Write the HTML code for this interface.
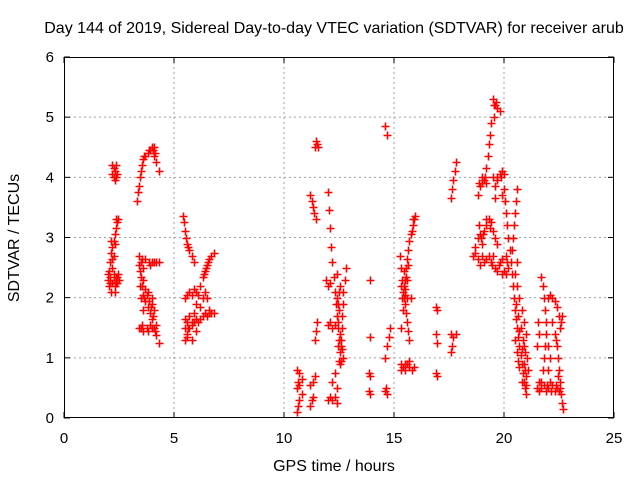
<!DOCTYPE html>
<html><head><meta charset="utf-8"><style>
body{margin:0;background:#fff}
svg{display:block;font-family:"Liberation Sans",sans-serif}
</style></head><body>
<svg id="chart" width="640" height="480">
<rect width="640" height="480" fill="#fff"/>
<text x="334" y="33" font-size="16" text-anchor="middle">Day 144 of 2019, Sidereal Day-to-day VTEC variation (SDTVAR) for receiver arub</text>
<g id="grid"></g>
<g id="axes"></g>
<g id="marks"></g>
<text x="334" y="471" font-size="16" text-anchor="middle">GPS time / hours</text>
<text x="19" y="238" font-size="16" text-anchor="middle" transform="rotate(-90 19 238)">SDTVAR / TECUs</text>
</svg>
<script>
const xTicks=[0,5,10,15,20,25];
const yTicks=[0,1,2,3,4,5,6];
const passA=[[2.0,2.3],[2.05,2.45],[2.1,2.6],[2.15,2.75],[2.2,2.85],[2.25,2.95],[2.3,3.05],[2.35,3.15],[2.4,3.25],[2.45,3.3],[2.05,2.2],[2.1,2.35],[2.2,2.25],[2.25,2.4],[2.3,2.2],[2.35,2.35],[2.4,2.25],[2.45,2.4],[2.5,2.3],[2.15,2.1],[2.3,2.1],[2.2,2.5],[2.15,2.95],[2.25,2.7],[2.0,2.4],[2.1,2.25],[2.25,2.3],[2.35,2.25],[2.4,2.35],[2.3,2.9],[2.35,3.3],[2.2,2.65]];
const passB=[[2.2,4.2],[2.25,4.0],[2.3,4.1],[2.3,3.95],[2.4,4.05],[2.35,4.2],[2.2,4.05],[2.25,4.15],[2.35,4.0]];
const passC=[[3.3,3.6],[3.35,3.75],[3.4,3.85],[3.45,4.0],[3.5,4.1],[3.55,4.2],[3.6,4.3],[3.7,4.35],[3.8,4.4],[3.9,4.45],[4.0,4.5],[4.1,4.5],[4.15,4.4],[4.2,4.25],[4.3,4.1],[3.65,4.35],[3.85,4.45],[4.05,4.45],[4.1,4.35]];
const passD=[[3.4,2.7],[3.5,2.6],[3.6,2.5],[3.5,2.35],[3.55,2.2],[3.6,2.05],[3.7,1.95],[3.8,1.85],[3.9,1.75],[4.0,1.65],[4.1,1.5],[4.2,1.38],[4.3,1.25],[3.4,1.5],[3.5,1.5],[3.6,1.45],[3.75,1.5],[3.9,1.55],[4.0,2.0],[4.0,2.6],[3.9,2.55],[4.1,2.6],[3.7,2.65],[3.45,2.45],[3.45,2.2],[3.8,2.1],[4.0,1.9],[3.6,2.3],[3.7,2.15],[4.1,1.8],[4.2,1.55],[3.5,2.0],[3.6,1.8],[4.2,2.6],[3.4,2.55],[3.55,2.65],[3.65,2.0],[3.75,2.05],[3.85,1.95],[3.95,1.85],[4.05,1.7],[4.15,1.45],[3.55,1.55],[3.8,1.45],[4.0,1.5],[3.85,2.6],[4.3,2.6]];
const passE=[[5.4,3.35],[5.45,3.25],[5.5,3.1],[5.55,3.0],[5.6,2.9],[5.7,2.8],[5.8,2.7],[5.9,2.6],[5.65,2.85]];
const passF=[[5.5,1.3],[5.6,1.4],[5.7,1.5],[5.8,1.6],[5.9,1.75],[6.0,1.9],[6.1,2.05],[6.2,2.2],[6.3,2.35],[6.4,2.45],[6.5,2.55],[6.6,2.65],[6.7,2.7],[6.8,2.75],[5.5,2.0],[5.6,2.05],[5.7,2.1],[5.8,2.05],[5.9,2.15],[6.0,2.1],[5.5,1.65],[5.6,1.6],[5.7,1.7],[5.8,1.55],[5.9,1.6],[6.0,1.65],[6.1,1.6],[6.2,1.65],[6.3,1.7],[6.4,1.75],[6.5,1.7],[6.6,1.75],[6.2,1.85],[6.3,2.0],[6.4,2.1],[6.5,2.0],[6.6,1.8],[5.6,1.35],[5.8,1.3],[6.0,1.45],[6.35,2.4],[6.45,2.5],[6.55,2.6],[6.7,1.75],[6.8,1.75],[5.5,1.5],[5.65,1.5]];
const passG=[[10.6,0.1],[10.65,0.2],[10.7,0.3],[10.6,0.5],[10.65,0.6],[10.7,0.55],[10.6,0.8],[10.7,0.75],[10.8,0.65],[10.8,0.4],[11.2,0.2],[11.25,0.3],[11.3,0.35],[11.2,0.55],[11.3,0.6],[11.4,0.7],[11.4,1.3],[11.45,1.45],[11.5,1.6]];
const passH=[[11.4,4.5],[11.45,4.6],[11.5,4.55],[11.55,4.5],[11.2,3.7],[11.25,3.6],[11.3,3.5],[11.35,3.4],[11.45,3.3]];
const passI=[[12.0,3.75],[12.05,3.45],[12.1,3.15],[12.15,2.85],[12.2,2.6],[12.25,2.35],[12.3,2.1],[12.35,1.9],[12.4,1.7],[12.45,1.5],[12.5,1.3],[12.55,1.1],[12.6,0.95],[12.8,2.5],[12.75,2.3],[12.7,2.1],[12.7,1.9],[12.65,1.7],[12.65,1.5],[12.6,1.3],[12.65,1.15],[12.7,1.0],[12.0,1.55],[12.1,1.6],[12.2,1.5],[12.3,1.55],[12.45,1.6],[11.9,2.3],[12.0,2.2],[12.1,2.25],[12.5,1.8],[12.4,2.0],[12.55,2.2],[12.4,2.4],[12.5,0.95],[12.45,1.2],[12.3,0.75],[12.2,0.6],[12.4,0.5],[12.2,0.3],[12.3,0.35],[12.4,0.25],[12.0,0.3],[12.1,0.35],[12.45,1.9],[12.5,2.1],[12.55,1.4],[12.6,1.2],[12.55,0.9]];
const passJ=[[13.9,2.3],[13.9,1.35],[13.85,0.75],[13.9,0.7],[13.85,0.45],[13.9,0.4],[14.6,4.85],[14.7,4.7],[14.6,1.0],[14.7,1.2],[14.75,1.35],[14.8,1.5],[14.6,0.45],[14.7,0.4],[14.65,0.5]];
const passK=[[15.25,2.7],[15.3,2.5],[15.35,2.3],[15.4,2.1],[15.45,2.0],[15.5,1.9],[15.55,1.75],[15.6,1.6],[15.65,1.45],[15.7,1.3],[15.3,2.2],[15.35,2.0],[15.4,1.8],[15.3,1.5],[15.5,2.3],[15.55,2.5],[15.6,2.65],[15.65,2.8],[15.7,2.95],[15.8,3.1],[15.85,3.2],[15.9,3.3],[15.95,3.35],[15.5,2.15],[15.45,2.45],[15.75,2.0],[15.6,2.0],[15.3,0.9],[15.4,0.85],[15.5,0.8],[15.6,0.9],[15.7,0.95],[15.8,0.8],[15.9,0.85],[15.3,0.8],[15.45,2.2],[15.5,2.05],[15.55,2.35],[15.6,2.3],[15.65,2.55],[15.75,3.05],[15.85,3.3],[15.5,0.9],[15.7,0.85]];
const passL=[[16.9,1.85],[16.95,1.8],[16.9,1.4],[16.95,1.25],[16.9,0.75],[16.95,0.7],[17.6,3.65],[17.65,3.8],[17.7,3.95],[17.75,4.1],[17.8,4.25],[17.6,1.4],[17.7,1.35],[17.6,1.1],[17.65,1.2],[17.8,1.4]];
const passM=[[19.5,5.3],[19.6,5.2],[19.7,5.15],[19.8,5.1],[19.55,5.0],[19.4,4.9],[19.35,4.7],[19.3,4.55],[19.25,4.35],[19.2,4.15],[18.8,3.7],[18.9,3.85],[19.0,4.0],[19.1,3.95],[19.2,3.9],[19.5,4.0],[19.6,3.85],[19.7,3.95],[19.8,4.05],[19.9,4.1],[20.0,4.05],[19.6,3.65],[19.9,3.7],[18.6,2.7],[18.7,2.85],[18.8,3.0],[18.85,3.2],[18.9,3.05],[19.0,2.9],[19.1,3.1],[19.2,3.2],[19.3,3.3],[19.4,3.25],[19.5,3.1],[19.6,3.0],[19.7,2.9],[18.8,2.65],[18.9,2.55],[19.1,2.6],[19.3,2.7],[19.4,2.6],[19.5,2.7],[19.6,2.5],[19.7,2.45],[19.8,2.6],[19.9,2.4],[20.0,2.45],[19.9,2.65],[20.1,2.7],[20.2,2.5],[19.55,5.2],[19.65,5.25],[18.85,3.9],[19.0,3.9],[19.15,4.0],[19.7,4.0],[19.85,4.0],[18.7,2.75],[18.95,3.0],[19.05,3.05],[19.2,3.3],[19.35,3.15],[19.0,2.7],[19.2,2.65],[19.45,2.55],[19.75,2.55],[20.1,2.4],[20.15,2.6]];
const passN=[[20.0,3.8],[20.05,3.6],[20.1,3.4],[20.15,3.2],[20.2,3.0],[20.25,2.8],[20.3,2.6],[20.35,2.4],[20.4,2.2],[20.45,2.0],[20.5,1.8],[20.55,1.65],[20.6,1.5],[20.65,1.35],[20.7,1.2],[20.75,1.05],[20.8,0.9],[20.85,0.75],[20.9,0.6],[20.95,0.5],[21.0,0.4],[20.6,3.8],[20.55,3.6],[20.5,3.4],[20.45,3.2],[20.4,3.0],[20.35,2.8],[20.6,2.2],[20.7,2.0],[20.8,1.8],[20.9,1.6],[21.0,1.4],[20.5,1.3],[20.6,1.1],[20.7,0.85],[20.9,1.2],[21.05,1.0],[21.1,0.8],[20.8,0.6],[21.0,0.7],[20.5,2.4],[20.6,2.6],[20.55,1.9],[20.65,1.7],[20.75,1.5],[20.85,1.3],[20.95,1.1],[20.7,1.45],[20.8,1.15],[20.9,0.9],[20.65,0.95],[20.95,0.8],[21.0,0.55]];
const passO=[[21.7,2.35],[21.75,2.2],[21.8,2.0],[21.85,1.8],[21.9,1.6],[21.9,1.4],[21.85,1.2],[21.8,1.0],[21.75,0.8],[21.7,0.6],[21.6,0.45],[21.5,1.2],[21.6,1.4],[21.55,1.6],[22.0,2.0],[22.1,2.05],[22.2,2.0],[22.3,1.95],[22.4,1.85],[22.5,1.7],[22.6,1.6],[22.2,1.6],[22.3,1.4],[22.4,1.2],[22.45,1.0],[22.5,0.8],[22.55,0.6],[22.6,0.4],[22.65,0.25],[22.7,0.15],[21.5,0.5],[21.6,0.6],[21.8,0.55],[21.9,0.45],[22.0,0.5],[22.1,0.6],[22.2,0.55],[22.3,0.45],[22.4,0.5],[22.5,0.45],[22.0,0.8],[22.1,1.0],[22.0,1.2],[21.7,0.5],[21.95,0.55],[22.15,0.45],[22.35,0.55],[22.55,0.5],[22.45,0.7],[22.35,1.3],[22.55,1.5],[22.65,1.7]];
const passes=[passA,passB,passC,passD,passE,passF,passG,passH,passI,passJ,passK,passL,passM,passN,passO];

const L=64,R=614,T=57,B=418,xMin=0,xMax=25,yMin=0,yMax=6;
const xs=v=>L+(v-xMin)/(xMax-xMin)*(R-L);
const ys=v=>B-(v-yMin)/(yMax-yMin)*(B-T);
const NS='http://www.w3.org/2000/svg';
const grid=document.getElementById('grid'),axes=document.getElementById('axes'),marks=document.getElementById('marks');
function mk(tag,attrs,parent){const e=document.createElementNS(NS,tag);for(const k in attrs)e.setAttribute(k,attrs[k]);parent.appendChild(e);return e;}
xTicks.forEach(t=>{
  const x=xs(t);
  if(t>xMin&&t<xMax){const g=mk('line',{x1:x,y1:T,x2:x,y2:B,stroke:'#a0a0a0','stroke-dasharray':'2,3'},grid);
  
  }
  mk('line',{x1:x,y1:B,x2:x,y2:B-6,stroke:'#000'},axes);
  mk('line',{x1:x,y1:T,x2:x,y2:T+6,stroke:'#000'},axes);
  const lb=mk('text',{x:x,y:B+25,'font-size':15,'text-anchor':'middle'},axes);lb.textContent=t;
  
  
});
yTicks.forEach(t=>{
  const y=ys(t);
  if(t>yMin&&t<yMax){const g=mk('line',{x1:L,y1:y,x2:R,y2:y,stroke:'#a0a0a0','stroke-dasharray':'2,3'},grid);
  
  }
  mk('line',{x1:L,y1:y,x2:L+6,y2:y,stroke:'#000'},axes);
  mk('line',{x1:R,y1:y,x2:R-6,y2:y,stroke:'#000'},axes);
  const lb=mk('text',{x:L-10,y:y+5,'font-size':15,'text-anchor':'end'},axes);lb.textContent=t;
  
  
});
const fr=mk('rect',{x:L+0.5,y:T+0.5,width:R-L-1,height:B-T-1,fill:'none',stroke:'#000'},axes);


passes.forEach(p=>p.forEach(([hx,vy])=>{
  const x=Math.round(xs(hx))+0.5,y=Math.round(ys(vy))+0.5;
  const pt=mk('path',{d:`M${x-4},${y}h8M${x},${y-4}v8`,stroke:'#f00','stroke-width':1.6},marks);
  
  
}));
</script>
</body></html>
